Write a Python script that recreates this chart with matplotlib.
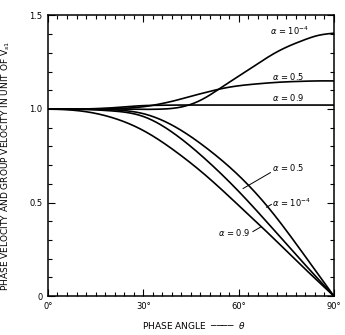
import matplotlib
matplotlib.use("Agg")
import matplotlib.pyplot as plt
import numpy as np
from matplotlib.ticker import MultipleLocator

plt.rcParams['font.family'] = ['DejaVu Sans']

# phase angle (deg)
theta = [0, 10, 20, 30, 40, 50, 60, 70, 80, 90]

# phase velocity (lower curves)
phase_a4 = [1.0, 1.0, 0.996, 0.975, 0.905, 0.79, 0.645, 0.46, 0.235, 0.0]
phase_a05 = [1.0, 0.998, 0.99, 0.96, 0.865, 0.725, 0.56, 0.375, 0.185, 0.0]
phase_a09 = [1.0, 0.99, 0.955, 0.885, 0.775, 0.64, 0.485, 0.325, 0.16, 0.0]

# group velocity (upper curves)
theta_g = [0, 10, 20, 30, 35, 40, 45, 50, 55, 60, 65, 70, 75, 80, 85, 90]
group_a4 = [1.0, 1.0, 1.0, 0.998, 0.999, 1.005, 1.025, 1.065, 1.12, 1.175,
            1.23, 1.285, 1.33, 1.365, 1.393, 1.405]
group_a05 = [1.0, 1.0, 1.002, 1.012, 1.026, 1.045, 1.068, 1.09, 1.11, 1.124,
             1.133, 1.14, 1.145, 1.148, 1.15, 1.15]
group_a09 = [1.0, 1.0, 1.006, 1.018, 1.02, 1.021, 1.021, 1.021, 1.021, 1.021,
             1.021, 1.021, 1.021, 1.021, 1.021, 1.021]

x_ticks = [0, 30, 60, 90]
x_labels = ['0°', '30°', '60°', '90°']
y_ticks = [0, 0.5, 1.0, 1.5]
y_labels = ['0', '0.5', '1.0', '1.5']


def spline(x, y):
    # natural cubic spline through the read points
    x = np.asarray(x, float)
    y = np.asarray(y, float)
    n = len(x)
    h = np.diff(x)
    A = np.zeros((n, n))
    b = np.zeros(n)
    A[0, 0] = A[-1, -1] = 1
    for i in range(1, n - 1):
        A[i, i - 1] = h[i - 1]
        A[i, i] = 2 * (h[i - 1] + h[i])
        A[i, i + 1] = h[i]
        b[i] = 6 * ((y[i + 1] - y[i]) / h[i] - (y[i] - y[i - 1]) / h[i - 1])
    M = np.linalg.solve(A, b)
    xs = np.linspace(x[0], x[-1], 400)
    idx = np.clip(np.searchsorted(x, xs) - 1, 0, n - 2)
    hi = h[idx]
    a = x[idx + 1] - xs
    c = xs - x[idx]
    ys = (M[idx] * a**3 + M[idx + 1] * c**3) / (6 * hi) \
        + (y[idx] / hi - M[idx] * hi / 6) * a \
        + (y[idx + 1] / hi - M[idx + 1] * hi / 6) * c
    return xs, ys


fig = plt.figure(figsize=(3.45, 3.35), dpi=100)
ax = fig.add_axes([0.139, 0.116, 0.829, 0.838])

for yy in (phase_a4, phase_a05, phase_a09):
    ax.plot(*spline(theta, yy), color='black', lw=1.2)
for yy in (group_a4, group_a05, group_a09):
    ax.plot(*spline(theta_g, yy), color='black', lw=1.2)

ax.set_xlim(0, 90)
ax.set_ylim(0, 1.5)
ax.set_xticks(x_ticks)
ax.set_xticklabels(x_labels)
ax.set_yticks(y_ticks)
ax.set_yticklabels(y_labels)
ax.xaxis.set_minor_locator(MultipleLocator(3))
ax.yaxis.set_minor_locator(MultipleLocator(0.1))
ax.tick_params(which='both', top=True, right=True, direction='in',
               labelsize=6, width=0.8)
ax.tick_params(which='major', length=5, pad=4)
ax.tick_params(which='minor', length=3)
for s in ax.spines.values():
    s.set_linewidth(1.1)

fs = 6
ax.text(76, 1.42, r'$\alpha$ = 10$^{-4}$', fontsize=fs, ha='center', va='center')
ax.text(75.5, 1.176, r'$\alpha$ = 0.5', fontsize=fs, ha='center', va='center')
ax.text(75.5, 1.059, r'$\alpha$ = 0.9', fontsize=fs, ha='center', va='center')

ax.text(75.5, 0.69, r'$\alpha$ = 0.5', fontsize=fs, ha='center', va='center')
ax.plot([70.0, 61.4], [0.66, 0.575], color='black', lw=0.7)
ax.text(76.5, 0.50, r'$\alpha$ = 10$^{-4}$', fontsize=fs, ha='center', va='center')
ax.plot([70.3, 68.8], [0.49, 0.475], color='black', lw=0.7)
ax.text(58.5, 0.342, r'$\alpha$ = 0.9', fontsize=fs, ha='center', va='center')
ax.plot([64.5, 67.0], [0.345, 0.37], color='black', lw=0.7)

ax.set_xlabel('PHASE ANGLE  \u2500\u2500\u2500\u2500  $\\theta$', fontsize=6.5)
ax.xaxis.set_label_coords(0.51, -0.085)
ax.set_ylabel('PHASE VELOCITY AND GROUP VELOCITY IN UNIT OF V$_{s1}$',
              fontsize=6.5)
ax.yaxis.set_label_coords(-0.125, 0.465)

fig.savefig('out.png', dpi=100)
